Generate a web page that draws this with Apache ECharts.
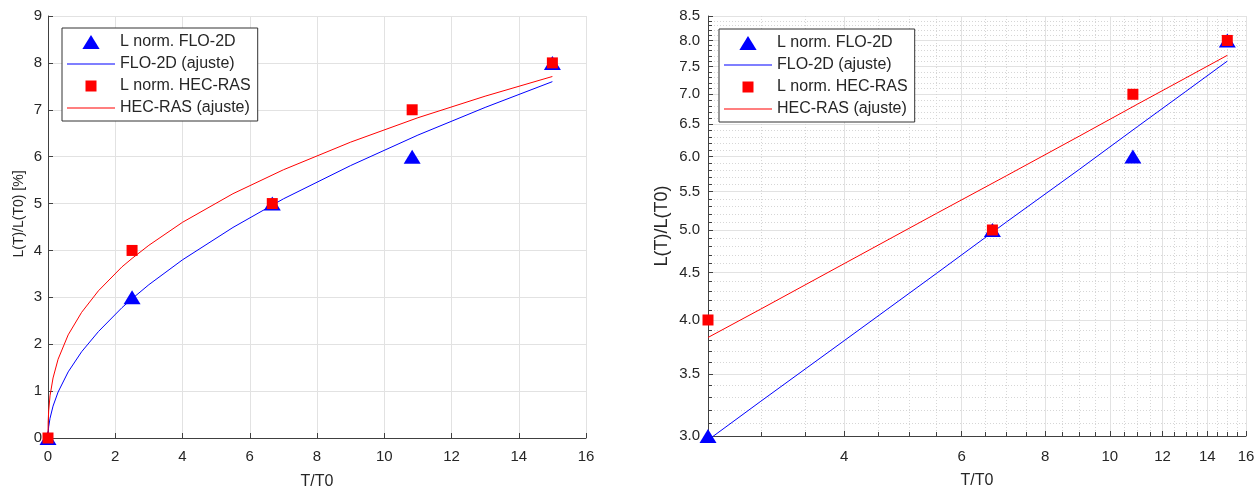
<!DOCTYPE html>
<html><head><meta charset="utf-8">
<script src="https://cdn.jsdelivr.net/npm/echarts@6/dist/echarts.min.js"></script>
<style>html,body{margin:0;padding:0;background:#fff}#c{width:1258px;height:487px}</style>
</head><body><div id="c"></div>
<script>
// ---------- data ----------
const seriesNames = ['L norm. FLO-2D', 'FLO-2D (ajuste)', 'L norm. HEC-RAS', 'HEC-RAS (ajuste)'];
const tT0 = [0, 2.5, 6.67, 10.83, 15];
const floNorm = [0, 3, 5, 6, 8];
const hecNorm = [0, 4, 5, 7, 8];
// fitted curves
const fitT   = [0, 0.005, 0.02, 0.06, 0.15, 0.3, 0.6, 1, 1.5, 2.2, 2.5, 3, 4, 5.5, 7, 9, 11, 13, 15];
const floFit = [0, 0.12, 0.24, 0.42, 0.68, 0.98, 1.41, 1.84, 2.27, 2.78, 2.97, 3.27, 3.80, 4.49, 5.10, 5.81, 6.46, 7.05, 7.60];
const hecFit = [0, 0.34, 0.58, 0.90, 1.28, 1.68, 2.20, 2.68, 3.14, 3.65, 3.83, 4.11, 4.60, 5.21, 5.72, 6.31, 6.83, 7.29, 7.71];
// log chart ticks
const logXMajor = [4, 6, 8, 10, 12, 14, 16];
const logXMinor = [3, 3.5, 4.5, 5, 5.5, 6.5, 7, 7.5, 8.5, 9, 9.5, 10.5, 11, 11.5, 12.5, 13, 13.5, 14.5, 15, 15.5];
const logYMajor = [3, 3.5, 4, 4.5, 5, 5.5, 6, 6.5, 7, 7.5, 8, 8.5];
const logYMinor = [3.1, 3.2, 3.3, 3.4, 3.6, 3.7, 3.8, 3.9, 4.1, 4.2, 4.3, 4.4, 4.6, 4.7, 4.8, 4.9,
  5.1, 5.2, 5.3, 5.4, 5.6, 5.7, 5.8, 5.9, 6.1, 6.2, 6.3, 6.4, 6.6, 6.7, 6.8, 6.9,
  7.1, 7.2, 7.3, 7.4, 7.6, 7.7, 7.8, 7.9, 8.1, 8.2, 8.3, 8.4];

// ---------- styles ----------
const FONT = '"Liberation Sans", Arial, Helvetica, sans-serif';
const TXT = '#262626';
const AX = '#404040';
const GRID = '#e2e2e2';
const MINOR = '#d6d6d6';
const BLUE = '#0000ff', RED = '#ff0000';
const triIcon = 'path://M8,0L16,13L0,13Z';
const sqIcon = 'path://M0,0M14,14M1.5,1.5L12.5,1.5L12.5,12.5L1.5,12.5Z';
const lineIcon = 'path://M0,0L48,0L48,1L0,1Z';

const pts = (xs, ys, keep) => xs.map((x, i) => [x, ys[i]]).filter(p => !keep || keep(p[0]));

function makeLegend(left, top) {
  return {
    orient: 'vertical', left, top,
    backgroundColor: '#fff', borderColor: '#333', borderWidth: 1,
    padding: [5, 7, 4, 5], itemGap: 4, itemWidth: 48, itemHeight: 14,
    selectedMode: false, z: 20,
    textStyle: { fontSize: 16, color: TXT, fontFamily: FONT, lineHeight: 18 },
    data: [
      { name: seriesNames[0], icon: triIcon },
      { name: seriesNames[1], icon: lineIcon },
      { name: seriesNames[2], icon: sqIcon },
      { name: seriesNames[3], icon: lineIcon }
    ]
  };
}

const tickStyle = { color: AX, width: 1 };
const lbl = (extra) => Object.assign({ color: TXT, fontSize: 15, fontFamily: FONT }, extra);
const nameStyle = (extra) => Object.assign({ color: TXT, fontSize: 16, fontFamily: FONT }, extra);

function seriesSet(xi, yi, keepPts, keepFit) {
  return [
    { name: seriesNames[0], type: 'scatter', xAxisIndex: xi, yAxisIndex: yi,
      data: pts(tT0, floNorm, keepPts), symbol: 'triangle', symbolSize: [17, 14],
      itemStyle: { color: BLUE, opacity: 1 }, clip: false, z: 3 },
    { name: seriesNames[1], type: 'line', xAxisIndex: xi, yAxisIndex: yi,
      data: pts(fitT, floFit, keepFit), symbol: 'none', color: BLUE,
      lineStyle: { color: BLUE, width: 1 }, z: 4 },
    { name: seriesNames[2], type: 'scatter', xAxisIndex: xi, yAxisIndex: yi,
      data: pts(tT0, hecNorm, keepPts), symbol: 'rect', symbolSize: 11,
      itemStyle: { color: RED, opacity: 1 }, clip: false, z: 5 },
    { name: seriesNames[3], type: 'line', xAxisIndex: xi, yAxisIndex: yi,
      data: pts(fitT, hecFit, keepFit), symbol: 'none', color: RED,
      lineStyle: { color: RED, width: 1 }, z: 6 }
  ];
}

const option = {
  backgroundColor: '#fff',
  animation: false,
  textStyle: { fontFamily: FONT },
  grid: [
    { left: 48, top: 16, width: 538, height: 422, containLabel: false, outerBoundsMode: 'none' },
    { left: 708, top: 16, width: 538, height: 420, containLabel: false, outerBoundsMode: 'none' }
  ],
  legend: [makeLegend(62, 28), makeLegend(719, 29)],
  xAxis: [
    { type: 'value', gridIndex: 0, min: 0, max: 16, interval: 2,
      axisLine: { show: true, lineStyle: { color: AX } },
      axisTick: { show: true, inside: true, length: 5, lineStyle: tickStyle },
      axisLabel: lbl({ margin: 11 }),
      splitLine: { show: true, lineStyle: { color: GRID } },
      name: 'T/T0', nameLocation: 'middle', nameGap: 36, nameTextStyle: nameStyle() },
    { type: 'log', gridIndex: 1, min: 2.5, max: 16, logBase: 10,
      axisLine: { show: true, lineStyle: { color: AX } },
      axisTick: { show: true, inside: true, length: 5, lineStyle: tickStyle, customValues: logXMajor },
      axisLabel: lbl({ margin: 13, customValues: logXMajor, formatter: v => String(Math.round(v)) }),
      splitLine: { show: true, lineStyle: { color: GRID } },
      name: 'T/T0', nameLocation: 'middle', nameGap: 37, nameTextStyle: nameStyle() },
    { type: 'log', gridIndex: 1, min: 2.5, max: 16, logBase: 10, position: 'bottom',
      axisLine: { show: false },
      axisTick: { show: true, inside: true, length: 4, lineStyle: tickStyle, customValues: logXMinor },
      axisLabel: { show: false, customValues: logXMinor },
      splitLine: { show: true, lineStyle: { color: MINOR, type: [1, 2] } } }
  ],
  yAxis: [
    { type: 'value', gridIndex: 0, min: 0, max: 9, interval: 1,
      axisLine: { show: true, lineStyle: { color: AX } },
      axisTick: { show: true, inside: true, length: 5, lineStyle: tickStyle },
      axisLabel: lbl({ margin: 6 }),
      splitLine: { show: true, lineStyle: { color: GRID } },
      name: 'L(T)/L(T0) [%]', nameLocation: 'middle', nameGap: 22,
      nameTextStyle: nameStyle({ fontSize: 14, padding: [0, 0, 0, 26] }) },
    { type: 'log', gridIndex: 1, min: 3, max: 8.5, logBase: 10,
      axisLine: { show: true, lineStyle: { color: AX } },
      axisTick: { show: true, inside: true, length: 5, lineStyle: tickStyle, customValues: logYMajor },
      axisLabel: lbl({ margin: 8, customValues: logYMajor, formatter: v => Number(v).toFixed(1) }),
      splitLine: { show: true, lineStyle: { color: GRID } },
      name: 'L(T)/L(T0)', nameLocation: 'middle', nameGap: 37, nameTextStyle: nameStyle({ fontSize: 18 }) },
    { type: 'log', gridIndex: 1, min: 3, max: 8.5, logBase: 10, position: 'left',
      axisLine: { show: false },
      axisTick: { show: true, inside: true, length: 4, lineStyle: tickStyle, customValues: logYMinor },
      axisLabel: { show: false, customValues: logYMinor },
      splitLine: { show: true, lineStyle: { color: MINOR, type: [1, 2] } } }
  ],
  series: [
    ...seriesSet(0, 0, null, null),
    ...seriesSet(1, 1, x => x > 0, x => x >= 2.5)
  ]
};

const chart = echarts.init(document.getElementById('c'), null, { renderer: 'canvas' });
chart.setOption(option);
</script>
</body></html>
